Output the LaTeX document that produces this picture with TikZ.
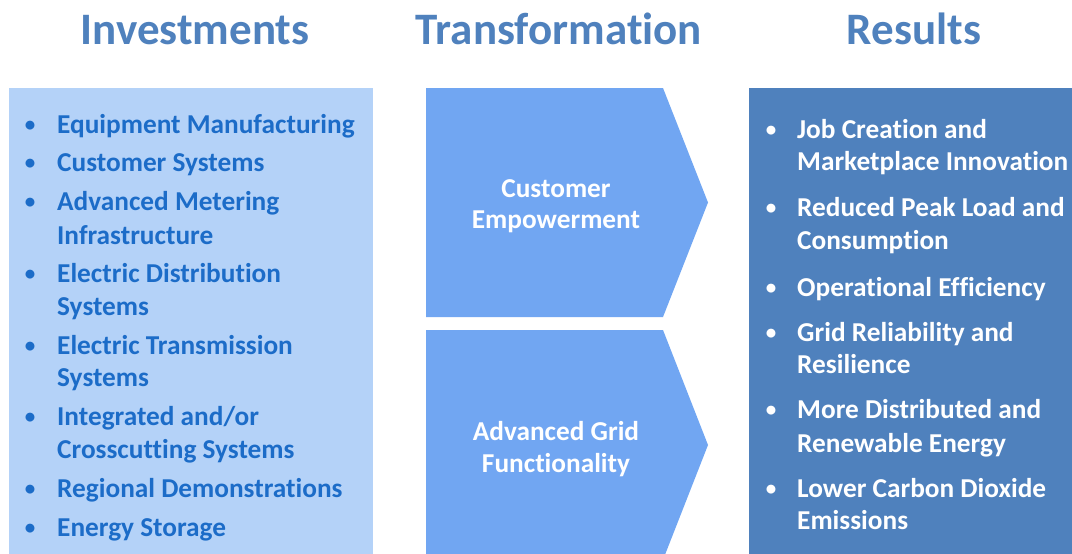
\documentclass[tikz,border=0pt]{standalone}
\usepackage{fontspec}
\setmainfont[Ligatures=CommonOff]{Carlito}
\definecolor{leftfill}{HTML}{B4D2F8}
\definecolor{lefttext}{HTML}{1C6CC8}
\definecolor{chevfill}{HTML}{71A6F2}
\definecolor{rightfill}{HTML}{4F81BD}
\definecolor{titlecol}{HTML}{4F81BD}
\begin{document}
\begin{tikzpicture}[x=1pt,y=-1pt,
  title/.style={anchor=base,inner sep=0pt,text=titlecol,font=\fontsize{45}{45}\selectfont\bfseries},
  litem/.style={anchor=base west,inner sep=0pt,text=lefttext,font=\fontsize{27.3}{27}\selectfont\bfseries},
  ritem/.style={anchor=base west,inner sep=0pt,text=white,font=\fontsize{27.3}{27}\selectfont\bfseries},
  lbul/.style={anchor=base,inner sep=0pt,text=lefttext,font=\fontsize{21}{21}\selectfont\bfseries},
  rbul/.style={anchor=base,inner sep=0pt,text=white,font=\fontsize{21}{21}\selectfont\bfseries},
  chevtext/.style={anchor=base,inner sep=0pt,text=white,font=\fontsize{27.3}{27}\selectfont\bfseries}]
\useasboundingbox (0,0) rectangle (1072,554);
\fill[white] (0,0) rectangle (1072,554);
% titles
\node[title] (t1) at (195,45) {Investments};
\node[title] (t2) at (559,45) {Transformation};
\node[title] (t3) at (914,45) {Results};
% boxes
\fill[leftfill] (9,88) rectangle (373,554);
\fill[rightfill] (749,88) rectangle (1072,554);
\fill[chevfill] (426,88) -- (663,88) -- (708,202.5) -- (663,317) -- (426,317) -- cycle;
\fill[chevfill] (426,330) -- (663,330) -- (708,445) -- (665.3,554) -- (426,554) -- cycle;
% chevron texts
\node[chevtext] (c1a) at (556,197) {Customer};
\node[chevtext] (c1b) at (556,228) {Empowerment};
\node[chevtext] (c2a) at (556,440) {Advanced Grid};
\node[chevtext] (c2b) at (556,472) {Functionality};
% left list
\foreach \y in {133,171,210,282,354,425,497,536}
  \node[lbul] at (30,\y-2) {•};
\node[litem] (l1) at (57,133) {Equipment Manufacturing};
\node[litem] (l2) at (57,171) {Customer Systems};
\node[litem] (l3) at (57,210) {Advanced Metering};
\node[litem] (l3b) at (57,244) {Infrastructure};
\node[litem] (l4) at (57,282) {Electric Distribution};
\node[litem] (l4b) at (57,315) {Systems};
\node[litem] (l5) at (57,354) {Electric Transmission};
\node[litem] (l5b) at (57,386) {Systems};
\node[litem] (l6) at (57,425) {Integrated and/or};
\node[litem] (l6b) at (57,458) {Crosscutting Systems};
\node[litem] (l7) at (57,497) {Regional Demonstrations};
\node[litem] (l8) at (57,536) {Energy Storage};
% right list
\foreach \y in {138,216,296,341,418,497}
  \node[rbul] at (771,\y-2) {•};
\node[ritem] (r1) at (797,138) {Job Creation and};
\node[ritem] (r1b) at (797,170) {Marketplace Innovation};
\node[ritem] (r2) at (797,216) {Reduced Peak Load and};
\node[ritem] (r2b) at (797,249) {Consumption};
\node[ritem] (r3) at (797,296) {Operational Efficiency};
\node[ritem] (r4) at (797,341) {Grid Reliability and};
\node[ritem] (r4b) at (797,373) {Resilience};
\node[ritem] (r5) at (797,418) {More Distributed and};
\node[ritem] (r5b) at (797,452) {Renewable Energy};
\node[ritem] (r6) at (797,497) {Lower Carbon Dioxide};
\node[ritem] (r6b) at (797,529) {Emissions};
\end{tikzpicture}
\end{document}
